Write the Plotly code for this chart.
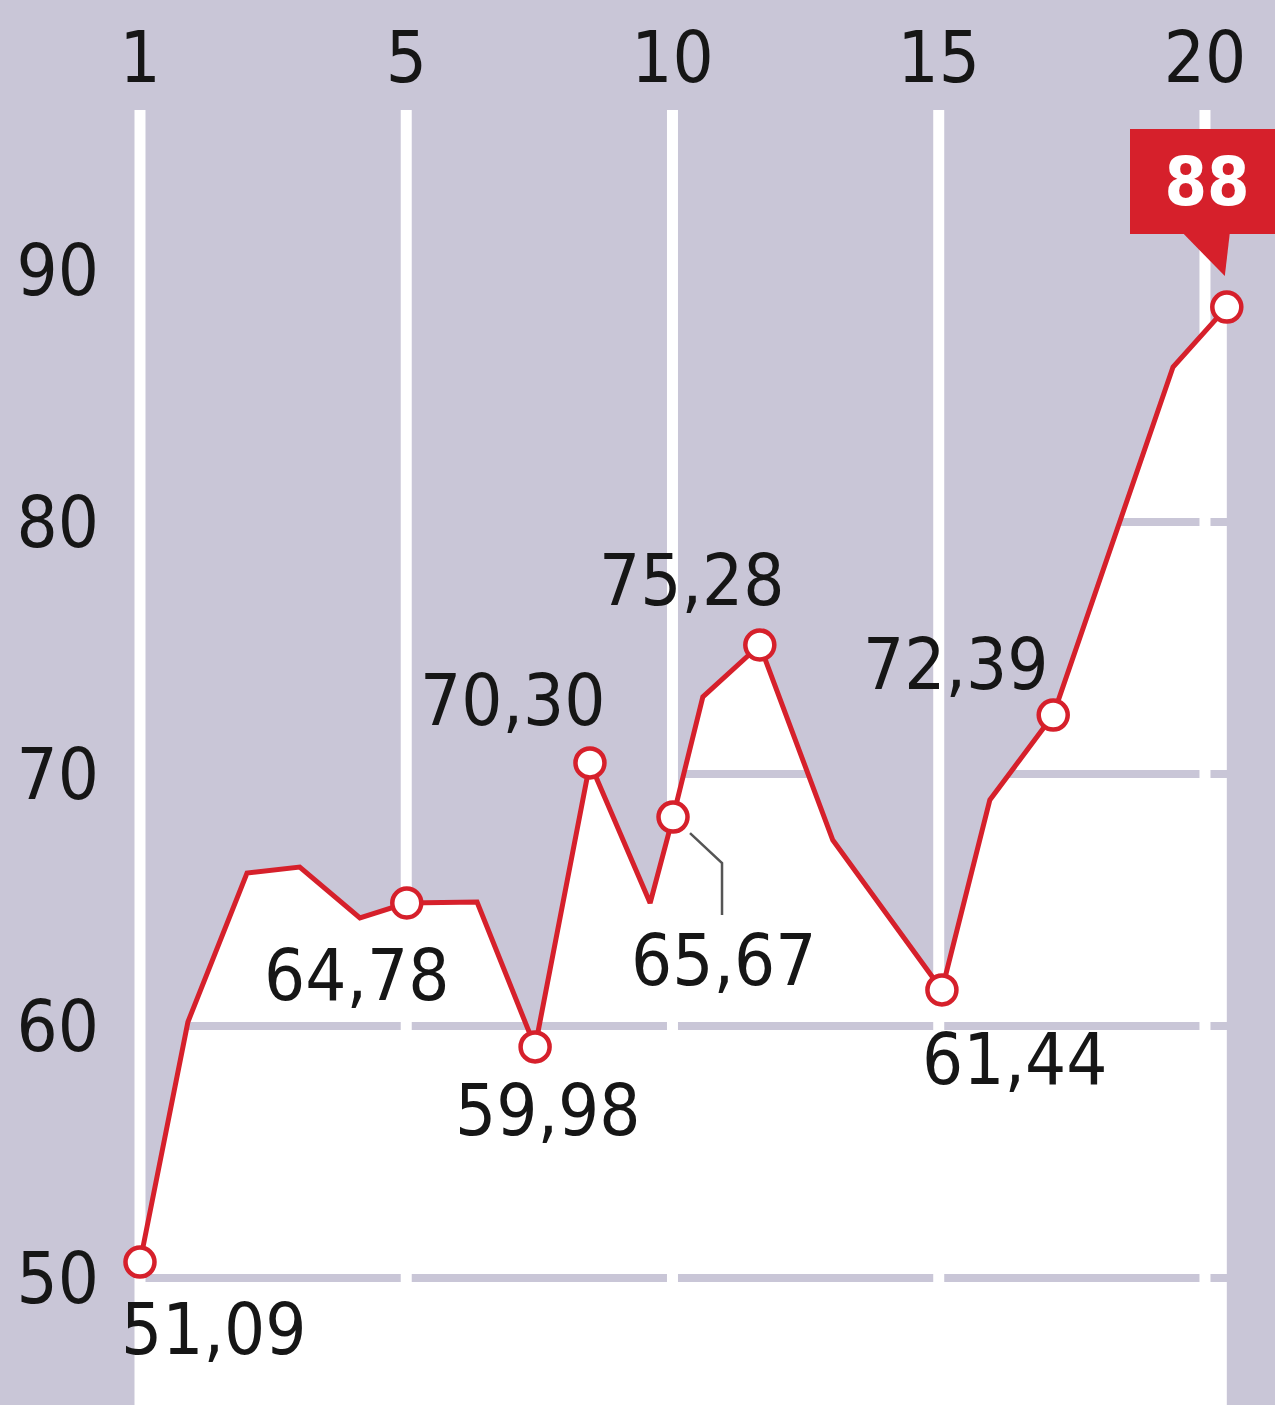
import plotly.graph_objects as go

# ---------------- data ----------------
x_pos = [0.0, 0.90, 2.01, 3.00, 4.13, 5.01, 6.33, 7.42, 8.45, 9.58,
         10.01, 10.57, 11.64, 13.01, 15.06, 15.96, 17.15, 19.40, 20.41]
values = [50.63, 60.16, 66.07, 66.31, 64.29, 64.88, 64.92, 59.17, 70.44, 64.88,
          68.29, 73.06, 75.12, 67.38, 61.43, 68.97, 72.34, 86.15, 88.53]
marker_idx = [0, 5, 7, 8, 10, 12, 14, 16, 18]
label_idx = [0, 5, 7, 8, 10, 12, 14, 16]
label_text = ["51,09", "64,78", "59,98", "70,30", "65,67", "75,28", "61,44", "72,39"]
peak_text = "88"
x_tick_vals = [0, 5, 10, 15, 20]
x_tick_text = ["1", "5", "10", "15", "20"]
y_tick_vals = [50, 60, 70, 80, 90]
y_grid_vals = [50, 60, 70, 80]

# ---------------- style ----------------
BG = "#c9c6d7"
RED = "#d6202b"
TXT = "#161616"
FONT = "DejaVu Sans Condensed, Open Sans, sans-serif"
FS = 72
FW = 400
X_RANGE = [-0.751, 21.315]
Y_RANGE = [44.96, 96.35]
# label offsets in pixels (dx right, dy up) relative to the point
label_offsets = [(74, -67), (-50, -72), (12, -63), (-77, 63), (50, -143),
                 (-68, 65), (73, -69), (-98, 51)]

fig = go.Figure()

# white area under the line
fig.add_trace(go.Scatter(x=x_pos, y=values, mode="lines", fill="tozeroy",
                         fillcolor="white", line=dict(width=0, color="white"),
                         hoverinfo="skip", showlegend=False))

# horizontal grid lines (lavender, visible on the white area)
hx, hy = [], []
for v in y_grid_vals:
    hx += [X_RANGE[0], X_RANGE[1], None]
    hy += [v, v, None]
fig.add_trace(go.Scatter(x=hx, y=hy, mode="lines", line=dict(color=BG, width=8),
                         hoverinfo="skip", showlegend=False))

# vertical grid lines (white)
vx, vy = [], []
for v in x_tick_vals:
    vx += [v, v, None]
    vy += [Y_RANGE[0], Y_RANGE[1], None]
fig.add_trace(go.Scatter(x=vx, y=vy, mode="lines", line=dict(color="white", width=11),
                         hoverinfo="skip", showlegend=False))

# red line
fig.add_trace(go.Scatter(x=x_pos, y=values, mode="lines",
                         line=dict(color=RED, width=5),
                         hoverinfo="skip", showlegend=False))

# markers
fig.add_trace(go.Scatter(x=[x_pos[i] for i in marker_idx], y=[values[i] for i in marker_idx],
                         mode="markers",
                         marker=dict(size=29, color="white", line=dict(color=RED, width=4.5)),
                         hoverinfo="skip", showlegend=False))

# value labels
for i, t, (dx, dy) in zip(label_idx, label_text, label_offsets):
    fig.add_annotation(x=x_pos[i], y=values[i], text=t, showarrow=False,
                       xshift=dx, yshift=dy, xanchor="center", yanchor="middle",
                       font=dict(family=FONT, size=FS, color=TXT, weight=FW))

# leader line for the 65,67 label
li = label_idx[label_text.index("65,67")]
fig.add_shape(type="path", xref="x", yref="y", xsizemode="pixel", ysizemode="pixel",
              xanchor=x_pos[li], yanchor=values[li],
              path="M 17,-16 L 49,-46 L 49,-98",
              line=dict(color="#555555", width=2.5), layer="above")

# peak callout
fig.add_shape(type="path", xref="x", yref="y", xsizemode="pixel", ysizemode="pixel",
              xanchor=x_pos[-1], yanchor=values[-1],
              path="M -44,74 L 3,74 L -2,31 Z",
              fillcolor=RED, line=dict(width=0), layer="above")
fig.add_annotation(x=x_pos[-1], y=values[-1], text="<b>" + peak_text + "</b>", showarrow=False,
                   xshift=-20, yshift=126, xanchor="center", yanchor="middle",
                   width=154, height=105, borderpad=0, borderwidth=0, bgcolor=RED,
                   font=dict(family=FONT, size=68, color="white"))

fig.update_layout(
    width=1275, height=1405,
    margin=dict(l=100, r=0, t=110, b=0, pad=0),
    paper_bgcolor=BG, plot_bgcolor=BG,
    font=dict(family=FONT, size=FS, color=TXT),
    showlegend=False,
    xaxis=dict(side="top", range=X_RANGE, tickvals=x_tick_vals, ticktext=x_tick_text,
               showgrid=False, zeroline=False, showline=False, ticks="",
               ticklabelstandoff=13,
               tickfont=dict(family=FONT, size=FS, color=TXT, weight=FW), fixedrange=True),
    yaxis=dict(range=Y_RANGE, tickvals=y_tick_vals, showgrid=False, zeroline=False,
               showline=False, ticks="", tickfont=dict(family=FONT, size=FS, color=TXT, weight=FW),
               fixedrange=True),
)

fig.write_html("out.html", config={"displayModeBar": False},
               post_script="document.body.style.margin='0';")
